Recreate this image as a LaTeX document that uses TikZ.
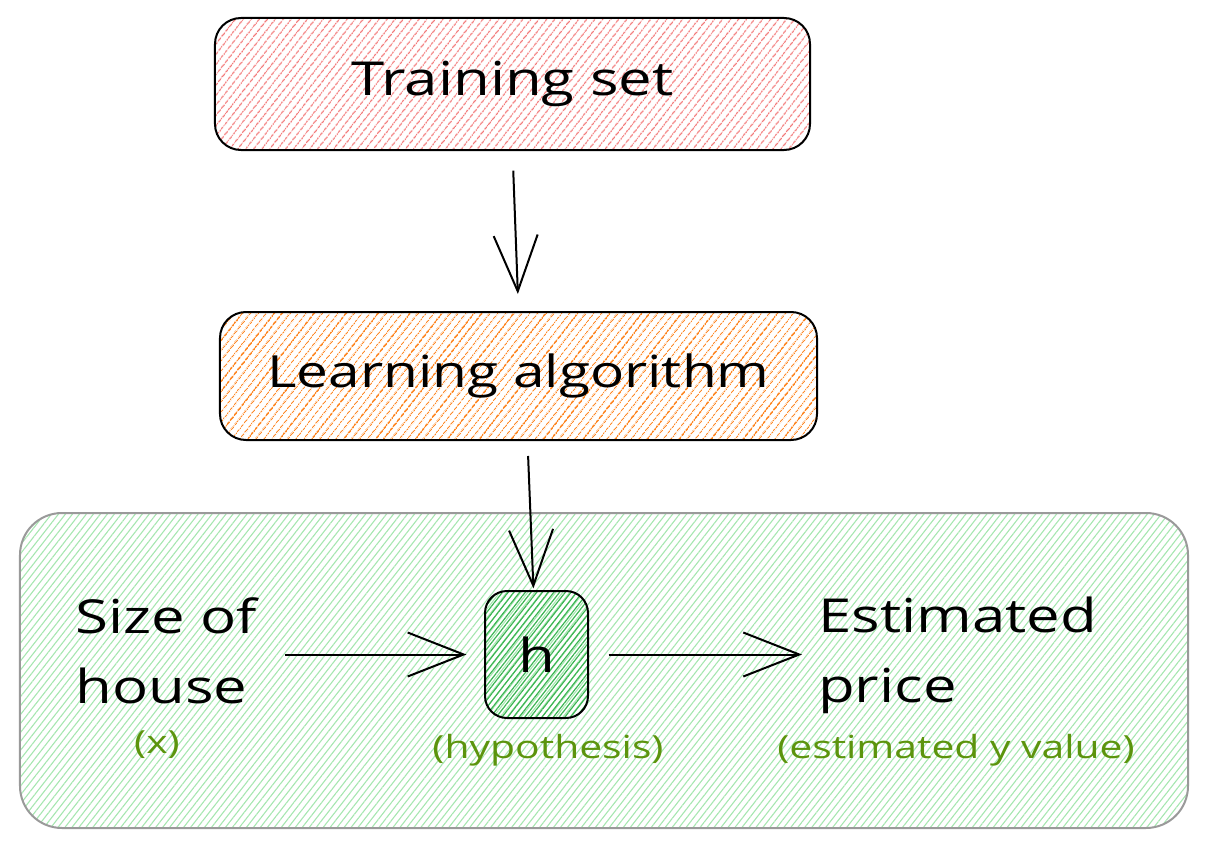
\documentclass[tikz,border=0pt]{standalone}
\usepackage{fontspec}
\setmainfont{Open Sans}[FakeStretch=1.28]
\usetikzlibrary{arrows.meta,patterns.meta}
\definecolor{redhatch}{HTML}{F27878}
\definecolor{orangehatch}{HTML}{FD8A2A}
\definecolor{lgreenhatch}{HTML}{A6E6B0}
\definecolor{dgreenhatch}{HTML}{3BB552}
\definecolor{framegray}{HTML}{9A9A9A}
\definecolor{labelgreen}{HTML}{5C940D}
\tikzset{
  bigtext/.style={font=\fontsize{47}{70}\selectfont, text=black},
  smalltext/.style={font=\fontsize{32}{40}\selectfont, text=labelgreen, inner sep=0pt},
  stagebox/.style={draw=black, line width=2bp, rounded corners=26bp, inner sep=0pt},
  arr/.style={draw=black, line width=2bp, -{Straight Barb[length=56bp, width=44bp, line width=2bp]}},
}
\begin{document}
\begin{tikzpicture}[x=1bp,y={(0bp,-1bp)}]
\useasboundingbox (0,0) rectangle (1206,848);
% outer frame
\node[draw=framegray, line width=2bp, rounded corners=42bp, inner sep=0pt,
      minimum width=1168bp, minimum height=315bp,
      pattern={Lines[angle=52,distance=5.5bp,line width=1.1bp]}, pattern color=lgreenhatch]
      (frame) at (604,670.5) {};
% top boxes
\node[stagebox, minimum width=595bp, minimum height=132bp,
      pattern={Lines[angle=52,distance=6bp,line width=1.4bp]}, pattern color=redhatch]
      (training) at (512.5,84) {};
\node[bigtext] at (training.center) {Training set};
\node[stagebox, minimum width=597bp, minimum height=128bp,
      pattern={Lines[angle=52,distance=6bp,line width=1.4bp]}, pattern color=orangehatch]
      (learning) at (518.5,376) {};
\node[bigtext, font=\fontsize{44.5}{70}\selectfont] at (learning.center) {Learning algorithm};
% hypothesis box
\node[draw=black, line width=2bp, rounded corners=22bp, inner sep=0pt,
      minimum width=103bp, minimum height=127bp,
      pattern={Lines[angle=52,distance=4.5bp,line width=1.2bp]}, pattern color=dgreenhatch]
      (h) at (536.5,654.5) {};
\node[bigtext] at (h.center) {h};
% texts
\node[bigtext, align=left, anchor=west, inner sep=0pt] (size) at (75,651) {Size of\\house};
\node[bigtext, align=left, anchor=west, inner sep=0pt] (price) at (818,655) {Estimated\\price};
\node[smalltext] (xlab) at (157,745) {(x)};
\node[smalltext] (hyplab) at (548,750) {(hypothesis)};
\node[smalltext] (ylab) at (956,750) {(estimated y value)};
% connectors
\draw[arr, shorten <=20bp, shorten >=17bp] (training.south) -- (learning.north);
\draw[arr, shorten <=15bp, shorten >=2bp] ([xshift=9bp]learning.south) -- ([xshift=-3bp]h.north);
\draw[arr, shorten <=28bp, shorten >=18bp] (size.east |- h.west) -- (h.west);
\draw[arr, shorten <=20bp, shorten >=16bp] (h.east) -- (price.west |- h.east);
\end{tikzpicture}
\end{document}
